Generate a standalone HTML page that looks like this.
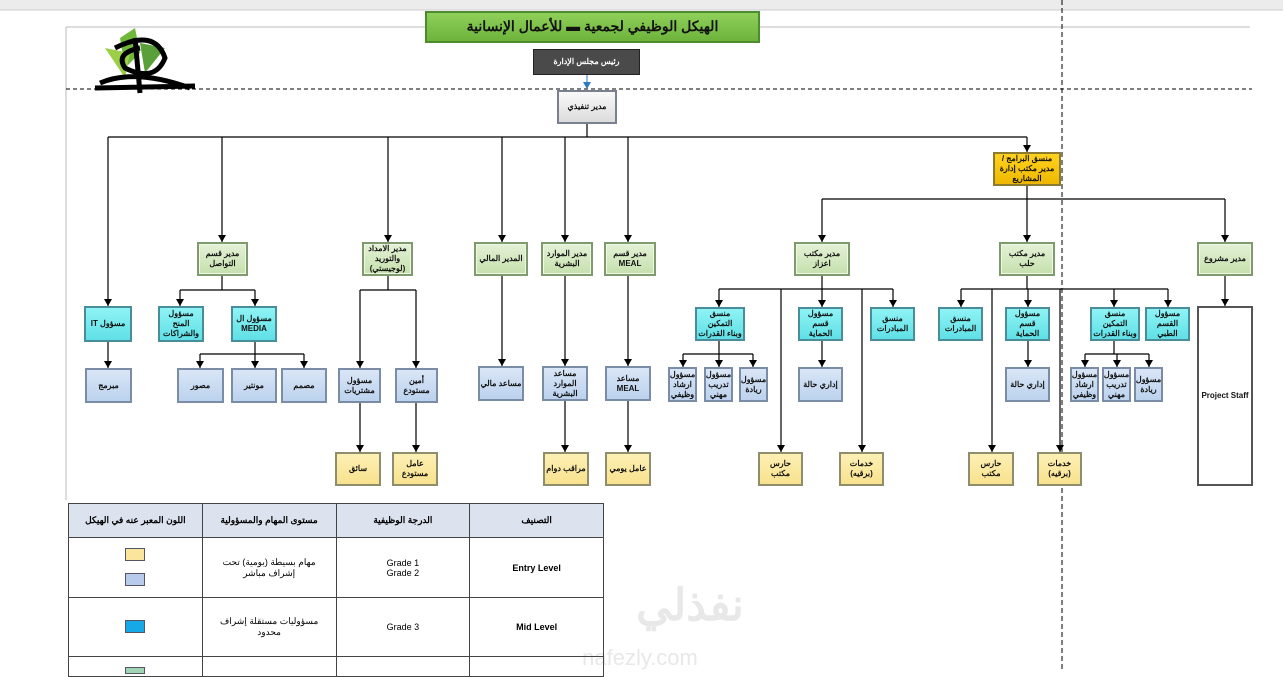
<!DOCTYPE html>
<html><head><meta charset="utf-8">
<style>
html,body{margin:0;padding:0;}
body{width:1283px;height:671px;position:relative;overflow:hidden;background:#fff;font-family:"Liberation Sans","Noto Sans CJK SC",sans-serif;}
.b{position:absolute;box-sizing:border-box;display:flex;align-items:center;justify-content:center;text-align:center;font-size:8px;font-weight:bold;line-height:1.25;direction:rtl;color:#111;}
.g{background:linear-gradient(#e3f1d6,#c6e0ad);border:2px solid #7f9a6c;box-shadow:inset 0 0 0 1px #eef7e6;}
.c{background:linear-gradient(#8ff3f5,#5fe0e6);border:2px solid #4a8d9a;}
.l{background:linear-gradient(#d9e6f6,#bcd2ee);border:2px solid #7b8ca6;}
.y{background:linear-gradient(#fdf0b4,#f8e28e);border:2px solid #8e8d6c;}
.o{background:linear-gradient(#ffd21f,#efb800);border:2px solid #8c7a30;}
svg{position:absolute;left:0;top:0;}
table{position:absolute;left:68px;top:503px;border-collapse:collapse;font-size:9px;table-layout:fixed;width:536px;}
td{border:1px solid #444;text-align:center;direction:rtl;padding:0;}
.h td{background:#dde2ef;height:33px;font-weight:bold;}
.sw{display:inline-block;width:18px;height:11px;border:1px solid #556;}
</style></head><body>
<svg width="1283" height="671">
<defs><marker id="a" markerWidth="8" markerHeight="8" refX="4" refY="7" markerUnits="userSpaceOnUse"><path d="M0,0 L8,0 L4,7z" fill="#000"/></marker>
<marker id="ab" markerWidth="8" markerHeight="8" refX="4" refY="7" markerUnits="userSpaceOnUse"><path d="M0,0 L8,0 L4,7z" fill="#2a7ac0"/></marker></defs>
<rect x="0" y="0" width="1283" height="10" fill="#ececec"/>
<line x1="0" y1="10" x2="1283" y2="10" stroke="#ccc"/>
<line x1="66" y1="27" x2="1250" y2="27" stroke="#bbb"/>
<line x1="66" y1="27" x2="66" y2="500" stroke="#bbb"/>
<line x1="66" y1="89" x2="1252" y2="89" stroke="#000" stroke-dasharray="4,3"/>
<line x1="1062" y1="0" x2="1062" y2="671" stroke="#000" stroke-dasharray="5,3"/>
<line x1="587" y1="75" x2="587" y2="89" stroke="#2a7ac0" marker-end="url(#ab)"/>
<g stroke="#000" stroke-width="1.2" fill="none" id="lines"></g>
<g transform="translate(95,28)">
<path d="M25,10 L40,0 L45,25 L30,40z" fill="#6fb83a"/><path d="M10,20 L35,25 L30,50z" fill="#9bd046"/><path d="M45,15 L70,20 L50,45z" fill="#5aa03a"/>
<path d="M5,55 Q40,40 95,60 M20,20 Q60,0 70,30 Q60,55 30,40 Q20,25 45,20 M40,10 L45,65 M0,60 L100,58" stroke="#000" stroke-width="5" fill="none"/>
</g>
<text x="690" y="620" font-size="44" font-weight="bold" fill="#e8e8e8" text-anchor="middle" font-family="Liberation Sans, Noto Sans CJK SC, sans-serif">نفذلي</text>
<text x="640" y="665" font-size="22" fill="#e8e8e8" text-anchor="middle" font-family="Liberation Sans, sans-serif">nafezly.com</text>
</svg>
<div class="b" style="left:425px;top:11px;width:335px;height:32px;background:linear-gradient(#8fd05a,#6db33b);border:2px solid #4e8a2e;font-size:14px;">الهيكل الوظيفي لجمعية ▬ للأعمال الإنسانية</div>
<div class="b" style="left:533px;top:49px;width:107px;height:26px;background:#4a4a4a;color:#fff;border:1px solid #222;">رئيس مجلس الإدارة</div>
<div class="b" style="left:557px;top:90px;width:60px;height:34px;background:linear-gradient(#fafafa,#dcdcdc);border:2px solid #7a8090;">مدير تنفيذي</div>
<div id="boxes"></div>
<table>
<tr class="h"><td>اللون المعبر عنه في الهيكل</td><td>مستوى المهام والمسؤولية</td><td>الدرجة الوظيفية</td><td>التصنيف</td></tr>
<tr style="height:60px"><td><span class="sw" style="background:#fbe49b"></span><br><br><span class="sw" style="background:#b8cbec"></span></td><td>مهام بسيطة (يومية) تحت<br>إشراف مباشر</td><td style="direction:ltr">Grade 1<br>Grade 2</td><td style="direction:ltr;font-weight:bold">Entry Level</td></tr>
<tr style="height:59px"><td><span class="sw" style="background:#15a9e8"></span></td><td>مسؤوليات مستقلة إشراف<br>محدود</td><td style="direction:ltr">Grade 3</td><td style="direction:ltr;font-weight:bold">Mid Level</td></tr>
<tr style="height:20px"><td style="vertical-align:bottom"><span class="sw" style="background:#9fd4b5;height:5px"></span></td><td></td><td></td><td></td></tr>
</table>
<script>
var B=[
['o',993,152,68,34,'منسق البرامج /<br>مدير مكتب إدارة<br>المشاريع'],
['g',197,242,51,34,'مدير قسم<br>التواصل'],['g',362,242,51,34,'مدير الامداد<br>والتوريد<br>(لوجيستي)'],['g',474,242,54,34,'المدير المالي'],['g',541,242,52,34,'مدير الموارد<br>البشرية'],['g',604,242,52,34,'مدير قسم<br>MEAL'],
['g',794,242,56,34,'مدير مكتب<br>اعزاز'],['g',999,242,56,34,'مدير مكتب حلب'],['g',1197,242,56,34,'مدير مشروع'],
['c',84,306,48,36,'مسؤول IT'],['c',158,306,46,36,'مسؤول<br>المنح<br>والشراكات'],['c',231,306,46,36,'مسؤول ال<br>MEDIA'],
['l',85,368,47,35,'مبرمج'],['l',177,368,47,35,'مصور'],['l',231,368,46,35,'مونتير'],['l',281,368,46,35,'مصمم'],['l',338,368,43,35,'مسؤول<br>مشتريات'],['l',395,368,43,35,'أمين<br>مستودع'],
['l',478,366,46,35,'مساعد مالي'],['l',542,366,46,35,'مساعد<br>الموارد<br>البشرية'],['l',605,366,46,35,'مساعد<br>MEAL'],
['y',335,452,46,34,'سائق'],['y',392,452,46,34,'عامل<br>مستودع'],['y',543,452,46,34,'مراقب دوام'],['y',605,452,46,34,'عامل يومي'],
['c',695,307,50,34,'منسق التمكين<br>وبناء القدرات'],['c',798,307,45,34,'مسؤول قسم<br>الحماية'],['c',870,307,45,34,'منسق<br>المبادرات'],
['c',938,307,45,34,'منسق<br>المبادرات'],['c',1005,307,45,34,'مسؤول قسم<br>الحماية'],['c',1090,307,50,34,'منسق التمكين<br>وبناء القدرات'],['c',1145,307,45,34,'مسؤول<br>القسم الطبي'],
['l',668,367,29,35,'مسؤول<br>ارشاد<br>وظيفي'],['l',704,367,29,35,'مسؤول<br>تدريب<br>مهني'],['l',739,367,29,35,'مسؤول<br>ريادة'],['l',798,367,45,35,'إداري حالة'],
['l',1070,367,29,35,'مسؤول<br>ارشاد<br>وظيفي'],['l',1102,367,29,35,'مسؤول<br>تدريب<br>مهني'],['l',1134,367,29,35,'مسؤول<br>ريادة'],['l',1005,367,45,35,'إداري حالة'],
['y',758,452,45,34,'حارس مكتب'],['y',839,452,45,34,'خدمات<br>(برقيه)'],['y',968,452,46,34,'حارس مكتب'],['y',1037,452,45,34,'خدمات<br>(برقيه)'],
];
var h='';B.forEach(function(b){h+='<div class="b '+b[0]+'" style="left:'+b[1]+'px;top:'+b[2]+'px;width:'+b[3]+'px;height:'+b[4]+'px">'+b[5]+'</div>';});
h+='<div class="b" style="left:1197px;top:306px;width:56px;height:180px;border:2px solid #555;background:#fff;direction:ltr">Project Staff</div>';
document.getElementById('boxes').innerHTML=h;
var L='';function ln(x1,y1,x2,y2,a){L+='<line x1="'+x1+'" y1="'+y1+'" x2="'+x2+'" y2="'+y2+'"'+(a?' marker-end="url(#a)"':'')+'/>';}
ln(587,124,587,137);ln(108,137,1027,137);
[[108,306],[222,242],[388,242],[502,242],[565,242],[628,242],[1027,152]].forEach(function(d){ln(d[0],137,d[0],d[1],1);});
ln(1027,186,1027,199);ln(822,199,1225,199);[822,1027,1225].forEach(function(x){ln(x,199,x,242,1);});
ln(108,342,108,368,1);
ln(222,276,222,290);ln(180,290,255,290);ln(180,290,180,306,1);ln(255,290,255,306,1);
ln(255,342,255,354);ln(200,354,304,354);[200,255,304].forEach(function(x){ln(x,354,x,368,1);});
ln(388,276,388,290);ln(360,290,416,290);ln(360,290,360,368,1);ln(416,290,416,368,1);
ln(360,403,360,452,1);ln(416,403,416,452,1);
ln(502,276,502,366,1);ln(565,276,565,366,1);ln(628,276,628,366,1);ln(565,401,565,452,1);ln(628,401,628,452,1);
ln(822,276,822,289);ln(719,289,893,289);[[719,307],[781,452],[822,307],[862,452],[893,307]].forEach(function(d){ln(d[0],289,d[0],d[1],1);});
ln(719,341,719,354);ln(683,354,753,354);[683,719,753].forEach(function(x){ln(x,354,x,367,1);});ln(822,341,822,367,1);
ln(1027,276,1027,289);ln(961,289,1168,289);[[961,307],[992,452],[1028,307],[1060,452],[1114,307],[1168,307]].forEach(function(d){ln(d[0],289,d[0],d[1],1);});
ln(1114,341,1114,354);ln(1085,354,1149,354);[1085,1117,1149].forEach(function(x){ln(x,354,x,367,1);});ln(1028,341,1028,367,1);
ln(1225,276,1225,306,1);
document.getElementById('lines').innerHTML=L;
</script>
</body></html>
